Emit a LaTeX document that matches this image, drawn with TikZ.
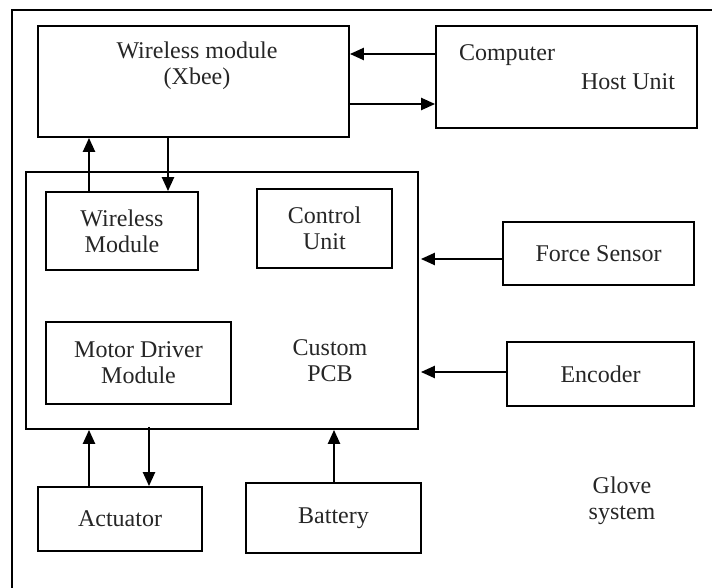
\documentclass[tikz,border=0pt]{standalone}
\usepackage{fontspec}
\setmainfont{Liberation Serif}
\usetikzlibrary{arrows.meta}
\begin{document}
\begin{tikzpicture}[x=1pt,y=-1pt,
  box/.style={draw=black,line width=1.8pt,rectangle,inner sep=0pt},
  lbl/.style={font=\fontsize{24}{26}\selectfont,text=black!85,align=center,inner sep=0pt},
  arr/.style={draw=black,line width=2.3pt,-{Triangle[length=14pt,width=12pt]}}]
\useasboundingbox (0,0) rectangle (712,588);
\fill[white] (0,0) rectangle (712,588);
% outer frame (left and top visible)
\draw[line width=1.8pt] (12,600) -- (12,10) -- (720,10);
% boxes
\node[box,minimum width=311pt,minimum height=111pt] (xbee) at (193.5,81.5) {};
\node[lbl] (xbeet) at (197,66) {Wireless module\\(Xbee)};
\node[box,minimum width=261pt,minimum height=102pt] (comp) at (566.5,77) {};
\node[lbl] (compt) at (507,55) {Computer};
\node[lbl] (hostt) at (628,82) {Host Unit};
\node[box,minimum width=392pt,minimum height=257pt] (pcb) at (222,300.5) {};
\node[lbl] (pcbt) at (330,361) {Custom\\PCB};
\node[box,minimum width=152pt,minimum height=78pt,lbl] (wm) at (122,231) {Wireless\\Module};
\node[box,minimum width=135pt,minimum height=79pt,lbl] (cu) at (324.5,228.5) {Control\\Unit};
\node[box,minimum width=185pt,minimum height=82pt,lbl] (md) at (138.5,363) {Motor Driver\\Module};
\node[box,minimum width=191pt,minimum height=63pt,lbl] (fs) at (598.5,253.5) {Force Sensor};
\node[box,minimum width=187pt,minimum height=64pt,lbl] (enc) at (600.5,374) {Encoder};
\node[box,minimum width=164pt,minimum height=64pt,lbl] (act) at (120,519) {Actuator};
\node[box,minimum width=175pt,minimum height=70pt,lbl] (bat) at (333.5,518) {Battery};
\node[lbl] (glove) at (622,501) {Glove\\system};
% helper coordinates
\coordinate (ya) at (0,54);
\coordinate (yb) at (0,104);
\coordinate (xa) at (89,0);
\coordinate (xb) at (168,0);
\coordinate (xc) at (149,0);
\coordinate (xd) at (334,0);
\coordinate (yc) at (0,259);
\coordinate (yd) at (0,372);
% connectors
\draw[arr] (comp.west |- ya) -- (xbee.east |- ya);
\draw[arr] (xbee.east |- yb) -- (comp.west |- yb);
\draw[arr] (wm.north -| xa) -- (xbee.south -| xa);
\draw[arr] (xbee.south -| xb) -- (wm.north -| xb);
\draw[arr] (fs.west |- yc) -- ([xshift=2pt]pcb.east |- yc);
\draw[arr] (enc.west |- yd) -- ([xshift=2pt]pcb.east |- yd);
\draw[arr] (act.north -| xa) -- (pcb.south -| xa);
\draw[arr] ([yshift=3pt]pcb.south -| xc) -- (act.north -| xc);
\draw[arr] (bat.north -| xd) -- (pcb.south -| xd);
\end{tikzpicture}
\end{document}
